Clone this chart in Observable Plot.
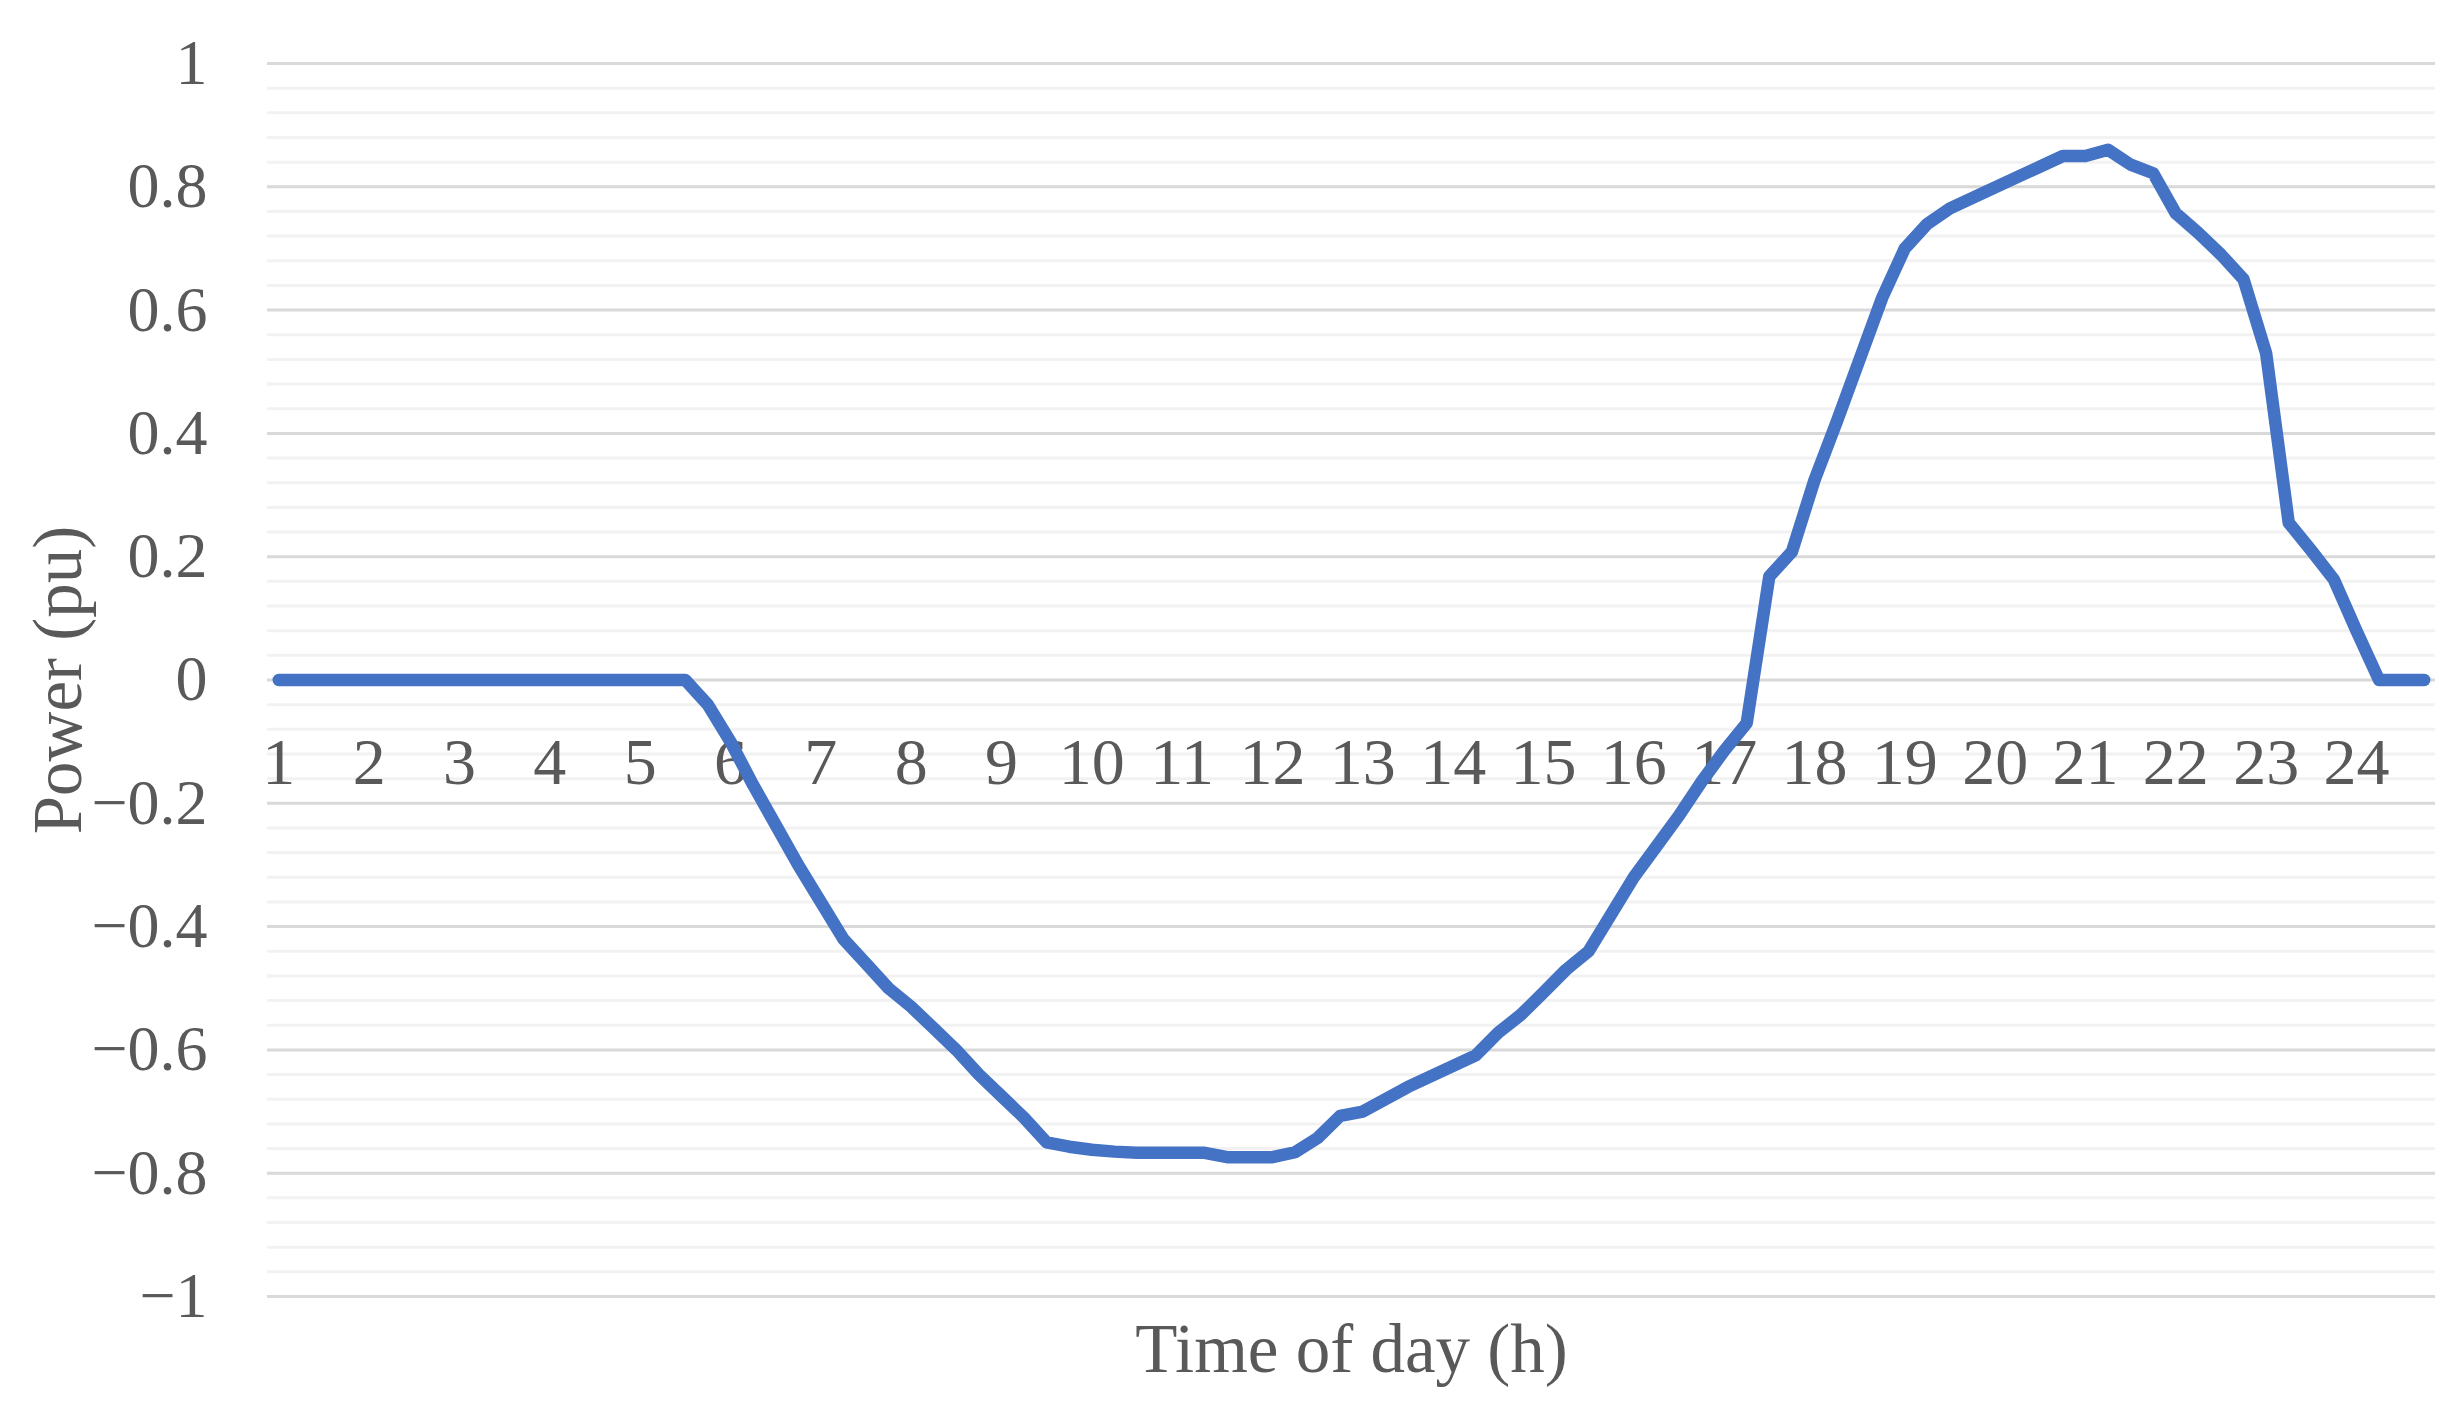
<!DOCTYPE html>
<html>
<head>
<meta charset="utf-8">
<script src="https://cdn.jsdelivr.net/npm/d3@7"></script>
<script src="https://cdn.jsdelivr.net/npm/@observablehq/plot@0.6"></script>
<style>
  html, body { margin: 0; padding: 0; background: #ffffff; }
  #chart svg { display: block; }
</style>
</head>
<body>
<div id="chart"></div>
<script>
// Hour labels shown on the category axis (one every 4 quarter-hour slots)
const hourLabels = ["1","2","3","4","5","6","7","8","9","10","11","12",
                    "13","14","15","16","17","18","19","20","21","22","23","24"];

// Power (pu) for the 96 quarter-hour slots of the day
const power = [
  0, 0, 0, 0, 0, 0, 0, 0, 0, 0, 0, 0, 0, 0, 0, 0, 0, 0, 0,
  -0.04, -0.10, -0.17, -0.235, -0.30, -0.36, -0.42, -0.46, -0.50, -0.53, -0.565,
  -0.60, -0.64, -0.675, -0.71, -0.75, -0.757, -0.762, -0.765, -0.767, -0.767,
  -0.767, -0.767, -0.774, -0.774, -0.774, -0.766, -0.743, -0.707, -0.700, -0.680,
  -0.660, -0.643, -0.626, -0.609, -0.572, -0.543, -0.507, -0.47, -0.44, -0.38,
  -0.32, -0.27, -0.22, -0.165, -0.115, -0.07, 0.168, 0.208, 0.324, 0.42,
  0.52, 0.62, 0.70, 0.74, 0.765, 0.782, 0.799, 0.816, 0.833, 0.85,
  0.85, 0.86, 0.836, 0.822, 0.757, 0.725, 0.69, 0.65, 0.53, 0.255,
  0.21, 0.163, 0.08, 0, 0, 0
];

// Y axis major ticks and their labels
const yMajor = [-1, -0.8, -0.6, -0.4, -0.2, 0, 0.2, 0.4, 0.6, 0.8, 1];
const yMajorLabels = ["\u22121", "\u22120.8", "\u22120.6", "\u22120.4", "\u22120.2", "0", "0.2", "0.4", "0.6", "0.8", "1"];
// Minor gridline values
const yMinor = [-0.96, -0.92, -0.88, -0.84, -0.76, -0.72, -0.68, -0.64, -0.56, -0.52, -0.48, -0.44,
                -0.36, -0.32, -0.28, -0.24, -0.16, -0.12, -0.08, -0.04, 0.04, 0.08, 0.12, 0.16,
                0.24, 0.28, 0.32, 0.36, 0.44, 0.48, 0.52, 0.56, 0.64, 0.68, 0.72, 0.76,
                0.84, 0.88, 0.92, 0.96];

const xTitle = "Time of day (h)";
const yTitle = "Power (pu)";

const series = power.map((p, i) => ({slot: i, p}));
const hourTicks = hourLabels.map((label, k) => ({slot: k * 4, label}));
const yTicks = yMajor.map((v, i) => ({v, label: yMajorLabels[i]}));

const textColor = "#595959";

const chart = Plot.plot({
  width: 2462,
  height: 1410,
  marginLeft: 267,
  marginRight: 27,
  marginTop: 63,
  marginBottom: 114,
  style: {fontFamily: "'Liberation Serif', 'Times New Roman', serif", background: "#ffffff", color: textColor},
  x: {domain: [-0.5, 95.5], axis: null},
  y: {domain: [-1, 1], axis: null},
  marks: [
    Plot.ruleY(yMinor, {stroke: "#f2f2f2", strokeWidth: 3}),
    Plot.ruleY(yMajor, {stroke: "#d9d9d9", strokeWidth: 3}),
    Plot.text(yTicks, {y: "v", text: "label", frameAnchor: "left", textAnchor: "end", dx: -60,
                       fontSize: 64, fill: textColor, lineAnchor: "middle"}),
    Plot.text(hourTicks, {x: "slot", y: () => 0, text: "label", dy: 83, fontSize: 66,
                          fill: textColor, lineAnchor: "middle"}),
    Plot.line(series, {x: "slot", y: "p", stroke: "#4472C4", strokeWidth: 12.5,
                       strokeLinecap: "round", strokeLinejoin: "round"}),
    Plot.text([yTitle], {frameAnchor: "left", textAnchor: "middle", dx: -209, rotate: -90, fontSize: 69,
                         fill: textColor, lineAnchor: "middle"}),
    Plot.text([xTitle], {frameAnchor: "bottom", textAnchor: "middle", dy: 53, fontSize: 69,
                         fill: textColor, lineAnchor: "middle"})
  ]
});

document.getElementById("chart").appendChild(chart);
</script>
</body>
</html>
